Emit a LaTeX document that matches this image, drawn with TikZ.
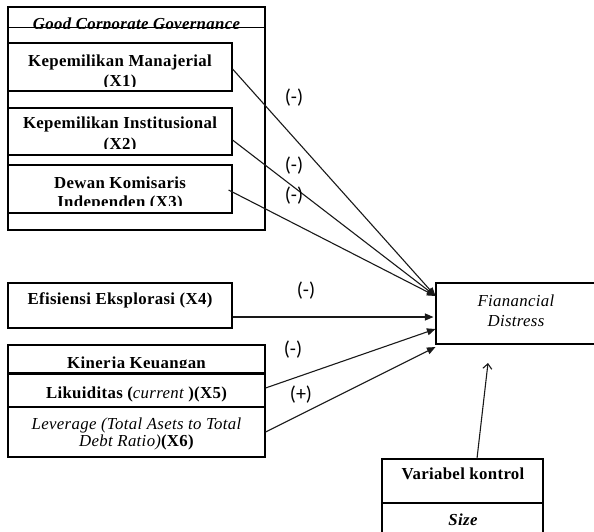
\documentclass[tikz,border=0pt]{standalone}
\usepackage{fontspec}
\setmainfont{Liberation Serif}[LetterSpace=2]
\newfontfamily\labfont{Carlito}
\usetikzlibrary{arrows.meta}
\tikzset{
  box/.style={draw=black, line width=1.1pt, fill=white, inner sep=0pt},
  boxline/.style={draw=black, line width=1.1pt},
  tb/.style={inner sep=0pt, anchor=base, font=\fontsize{16.8}{20}\selectfont\bfseries},
  tbi/.style={tb, font=\fontsize{16.8}{20}\selectfont\bfseries\itshape},
  ti/.style={tb, font=\fontsize{16.8}{20}\selectfont\itshape},
  lab/.style={inner sep=0pt, font=\labfont\fontsize{20}{24}\selectfont},
  arr/.style={draw=black!90, line width=1.1pt, -{Triangle[length=8.5pt,width=7pt]}},
  openarr/.style={draw=black!90, line width=1.1pt, -{Straight Barb[length=5pt,width=9pt]}}
}
\begin{document}
\begin{tikzpicture}[x=1pt,y=-1pt]
\useasboundingbox (0,0) rectangle (594,531);

% Good Corporate Governance group
\node[box, minimum width=257pt, minimum height=223pt] (gcg) at (136.5,118.5) {};
\draw[boxline] ([yshift=-21pt]gcg.north west) -- ([yshift=-21pt]gcg.north east);
\begin{scope}
  \clip (8,7) rectangle (265,28.3);
  \node[tbi] (gcgt) at (136.5,29.5) {Good Corporate Governance};
\end{scope}

\node[box, minimum width=224pt, minimum height=48pt] (x1) at (120,67) {};
\node[box, minimum width=224pt, minimum height=47pt] (x2) at (120,131.5) {};
\node[box, minimum width=224pt, minimum height=48pt] (x3) at (120,189) {};

\node[tb] (x1a) at (120,66) {Kepemilikan Manajerial};
\begin{scope}
  \clip (8,70) rectangle (232,86.5);
  \node[tb] (x1b) at (120,86.5) {(X1)};
\end{scope}
\node[tb] (x2a) at (120,128) {Kepemilikan Institusional};
\begin{scope}
  \clip (8,132) rectangle (232,148.5);
  \node[tb] (x2b) at (120,149.5) {(X2)};
\end{scope}
\node[tb] (x3a) at (120,188) {Dewan Komisaris};
\begin{scope}
  \clip (8,192) rectangle (232,205.5);
  \node[tb] (x3b) at (120,207) {Independen (X3)};
\end{scope}

% X4
\node[box, minimum width=224pt, minimum height=45pt] (x4) at (120,305.5) {};
\node[tb] (x4t) at (120,304) {Efisiensi Eksplorasi (X4)};

% Kinerja Keuangan
\node[box, minimum width=257pt, minimum height=28pt] (kh) at (136.5,359) {};
\node[box, minimum width=257pt, minimum height=34pt] (liq) at (136.5,390) {};
\node[box, minimum width=257pt, minimum height=50pt] (lev) at (136.5,432) {};
\draw[draw=black, line width=2pt] (kh.south west) -- (kh.south east);
\begin{scope}
  \clip (8,345) rectangle (265,367.5);
  \node[tb] (kht) at (136.5,368) {Kinerja Keuangan};
\end{scope}
\node[tb] (liqt) at (136.5,398) {Likuiditas ({\mdseries\itshape current} )(X5)};
\node[ti] (levt1) at (136.5,429) {Leverage (Total Asets to Total};
\node[tb] (levt2) at (136.5,446) {{\mdseries\itshape Debt Ratio)}(X6)};

% Financial Distress
\node[box, minimum width=161pt, minimum height=61pt] (fd) at (516.5,313.5) {};
\node[ti] (fdt1) at (516,306) {Fianancial};
\node[ti] (fdt2) at (516,326) {Distress};

% Variabel kontrol
\node[box, minimum width=161pt, minimum height=44pt] (vk) at (462.5,481) {};
\node[box, minimum width=161pt, minimum height=37pt] (sz) at (462.5,521.5) {};
\node[tb] (vkt) at (463,479) {Variabel kontrol};
\node[tbi] (szt) at (463,525) {Size};

% Connectors
\coordinate (fdin) at ([yshift=17.5pt]fd.west);
\draw[arr] ([yshift=-2pt]x1.east) -- (fdin);
\draw[arr] ([yshift=-8.5pt]x2.east) -- (fdin);
\draw[arr] ([xshift=-4pt,yshift=-1pt]x3.east) -- (fdin);
\coordinate (x4o) at ([yshift=-11.5pt]x4.east);
\draw[arr, shorten >=2pt] (x4o) -- (x4o -| fd.west);
\draw[arr] ([yshift=2pt]liq.east) -- ([yshift=-15.5pt]fd.west);
\draw[arr] (lev.east) -- ([yshift=-2.5pt]fd.south west);
\coordinate (vkhead) at (488,363);
\draw[openarr] ([xshift=14.5pt]vk.north) -- (vkhead);

% Labels
\node[lab] (l1) at (294,98) {(-)};
\node[lab] (l2) at (294,166) {(-)};
\node[lab] (l3) at (294,196) {(-)};
\node[lab] (l4) at (306,291) {(-)};
\node[lab] (l5) at (293,350) {(-)};
\node[lab] (l6) at (301,395) {(+)};
\end{tikzpicture}
\end{document}
